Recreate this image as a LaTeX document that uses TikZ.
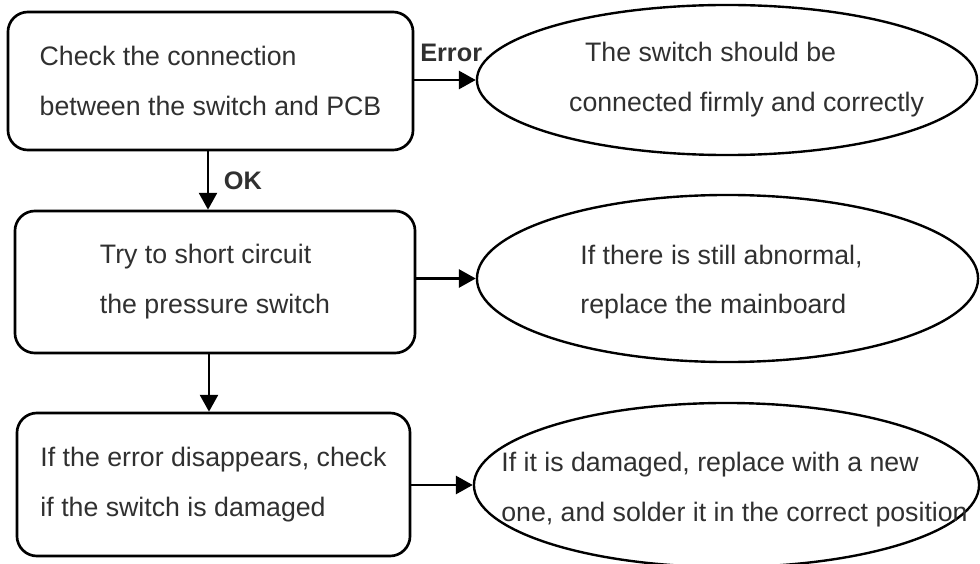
\documentclass[tikz,border=0pt]{standalone}
\usepackage{fontspec}
\setmainfont{Liberation Sans}
\usetikzlibrary{shapes.geometric,arrows.meta}
\definecolor{textgray}{HTML}{303030}

\tikzset{
	stepbox/.style={draw, line width=1.9pt, rounded corners=0.5cm, inner sep=0pt,
		align=left, text=textgray, font=\fontsize{19}{35.5}\selectfont},
	result/.style={draw, ellipse, line width=1.7pt, inner sep=0pt},
	resulttext/.style={align=left, text=textgray, font=\fontsize{19}{35.5}\selectfont},
	flow/.style={line width=1.7pt, -{Triangle[length=0.42cm, width=0.45cm]}},
	flowlabel/.style={font=\bfseries\fontsize{18}{18}\selectfont, text=textgray}
}

\begin{document}
\begin{tikzpicture}[x=0.025cm, y=-0.025cm]
		\useasboundingbox (0,0) rectangle (980,564);

		% checks on the left
		\node[stepbox, minimum width=10.125cm, minimum height=3.45cm] (check) at (210.5,81)
		{Check the connection\\between the switch and PCB};
		\node[stepbox, minimum width=10cm, minimum height=3.55cm] (short) at (215,282)
		{Try to short circuit\\the pressure switch};
		\node[stepbox, minimum width=9.825cm, minimum height=3.575cm] (damage) at (213.5,484.5)
		{If the error disappears, check\\if the switch is damaged};

		% results on the right
		\node[result, minimum width=12.5cm, minimum height=3.75cm] (firm) at (727,80) {};
		\node[result, minimum width=12.525cm, minimum height=4.175cm] (board) at (727.5,278.5) {};
		\node[result, minimum width=12.625cm, minimum height=4.1cm] (solder) at (726.5,485) {};

		\node[resulttext] (firmtext) at ([xshift=0.49cm]firm.center)
		{\hspace{0.4cm}The switch should be\\connected firmly and correctly};
		\node[resulttext] (boardtext) at ([xshift=-0.15cm, yshift=-0.09cm]board.center)
		{If there is still abnormal,\\replace the mainboard};
		\node[resulttext] (soldertext) at ([xshift=0.2cm, yshift=-0.12cm]solder.center)
		{If it is damaged, replace with a new\\one, and solder it in the correct position};

		% arrows
		\draw[flow] (check.south -| 208,0) -- node[flowlabel, right=0.25cm] {OK}
		(short.north -| 208,0);
		\draw[flow] (short.south -| 209,0) -- (damage.north -| 209,0);
		\draw[flow] (check.east |- firm.west) -- node[flowlabel, pos=0.6, above=0.3cm] {Error}
		(firm.west);
		\draw[flow] (short.east |- board.west) -- (board.west);
		\draw[flow] (damage.east |- solder.west) -- (solder.west);

	\end{tikzpicture}
\end{document}
